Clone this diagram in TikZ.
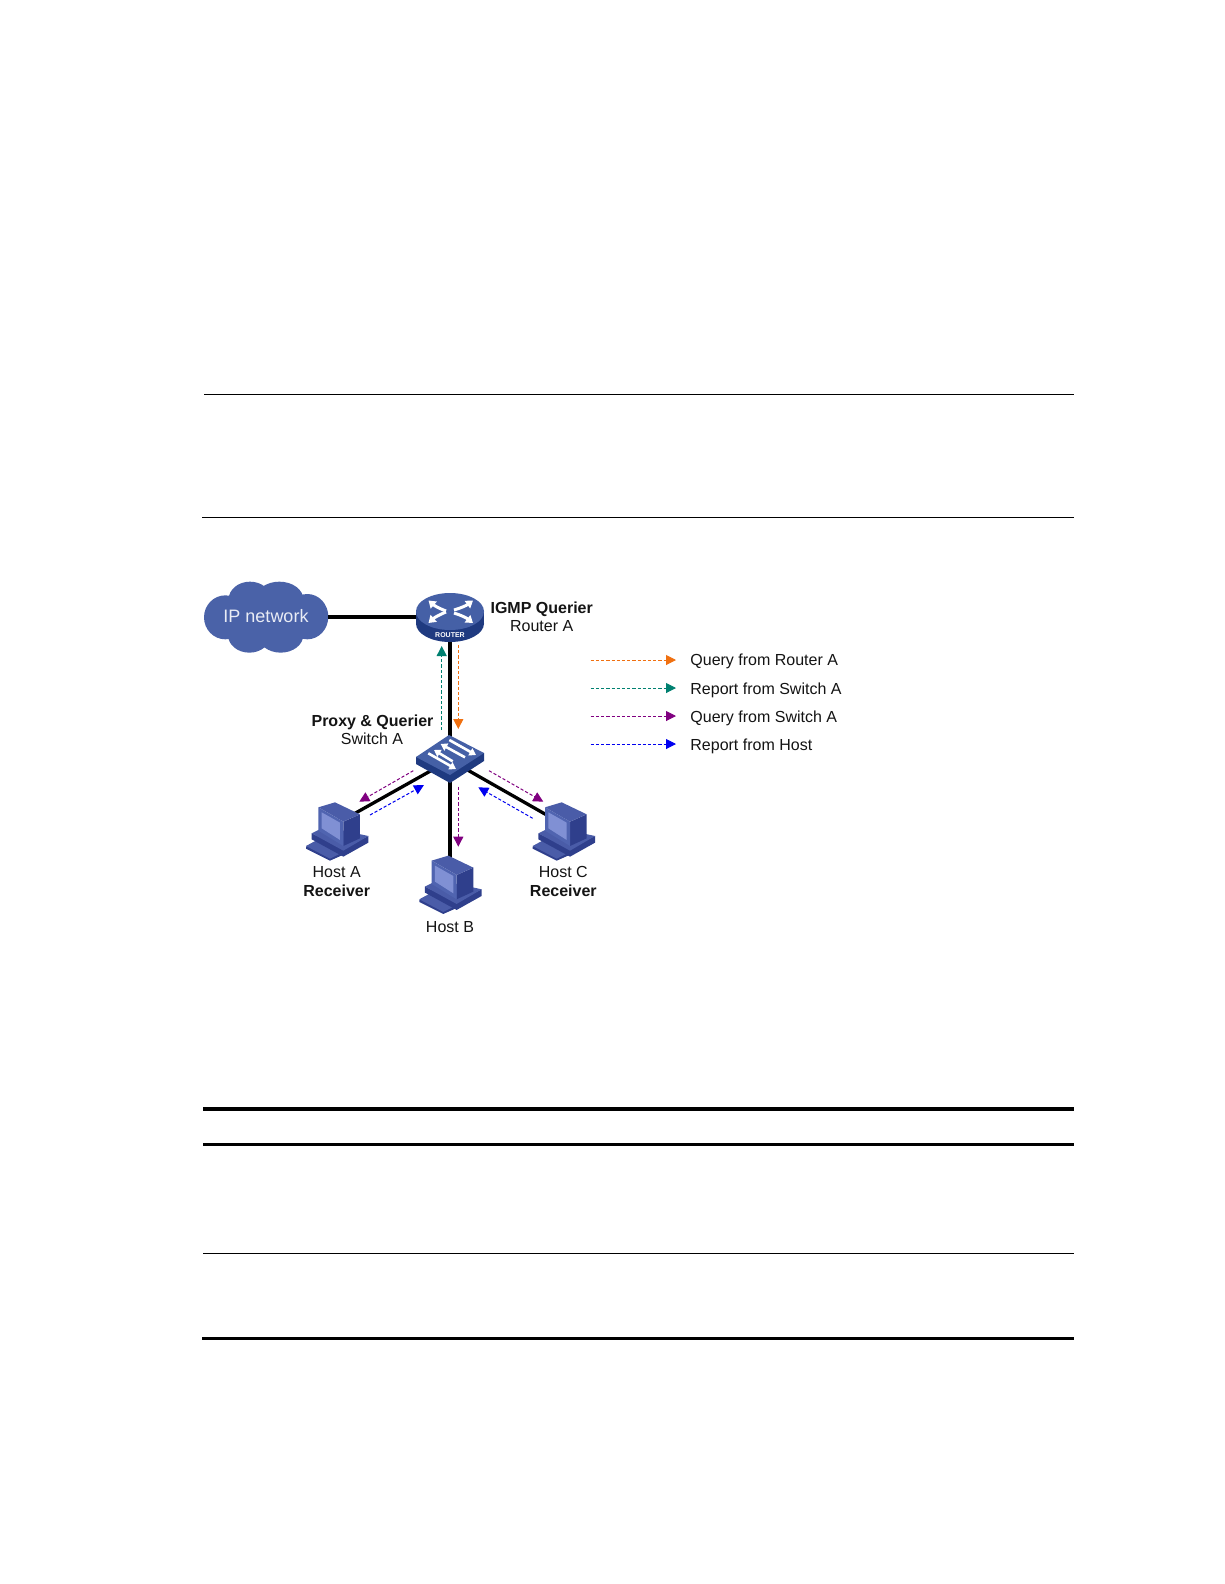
\documentclass[tikz,border=0pt]{standalone}
\usepackage{fontspec}
\setmainfont{Liberation Sans}
\usetikzlibrary{arrows.meta}
\definecolor{cloudblue}{HTML}{4A62A8}
\definecolor{devtop}{HTML}{4560A6}
\definecolor{devside}{HTML}{1F3A80}
\definecolor{pcmid}{HTML}{4A5CA8}
\definecolor{pcdark}{HTML}{2F3F8C}
\definecolor{pcscreen}{HTML}{8090D4}
\definecolor{pcframe}{HTML}{5064B0}
\definecolor{qorange}{HTML}{F07010}
\definecolor{qteal}{HTML}{008070}
\definecolor{qpurple}{HTML}{800080}
\definecolor{qblue}{HTML}{0000F0}
\tikzset{
  rulethin/.style={draw=black,line width=1pt},
  rulethick/.style={draw=black,line width=3.6pt},
  link/.style={draw=black,line width=3.3pt},
  msg/.style={line width=1pt,dash pattern=on 3.2pt off 2pt,-{Triangle[length=10pt,width=10pt]}},
  lab/.style={font=\fontsize{16}{18}\selectfont,text=black!92,inner sep=0pt,anchor=center},
  blab/.style={lab,font=\fontsize{16}{18}\selectfont\bfseries},
  leglab/.style={lab,anchor=west},
  icon/.style={white,line width=3pt,-{Triangle[length=7pt,width=9pt]}},
  swicon/.style={white,line width=2.6pt,-{Triangle[length=6.5pt,width=8pt]}},
  pics/hostpc/.style={code={
    \begin{scope}[x=0.3333pt,y=-0.3333pt]
      \fill[pcdark] (48,380) -- (85,360) -- (165,402) -- (120,422) -- (48,386) -- cycle;
      \fill[pcmid] (48,378) -- (85,358) -- (160,396) -- (120,416) -- cycle;
      \fill[pcdark] (65,340) -- (65,358) -- (160,410) -- (235,368) -- (235,348) -- (160,385) -- cycle;
      \fill[pcmid] (65,340) -- (105,320) -- (235,348) -- (160,392) -- cycle;
      \fill[pcdark] (160,305) -- (210,283) -- (210,355) -- (160,378) -- cycle;
      \fill[pcmid] (85,262) -- (135,247) -- (210,283) -- (160,305) -- cycle;
      \fill[pcframe] (85,262) -- (160,305) -- (160,378) -- (85,332) -- cycle;
      \fill[pcscreen] (95,277) -- (150,308) -- (150,360) -- (95,325) -- cycle;
    \end{scope}
  }}
}
\begin{document}
\begin{tikzpicture}[x=1pt,y=-1pt]
\useasboundingbox (0,0) rectangle (1224,1584);
\fill[white] (0,0) rectangle (1224,1584);
% page rules
\coordinate (ra1) at (204,394.5); \coordinate (ra2) at (1074,394.5);
\coordinate (rb1) at (202,517.5); \coordinate (rb2) at (1074,517.5);
\coordinate (rc1) at (203,1109); \coordinate (rc2) at (1074,1109);
\coordinate (rd1) at (203,1144.5); \coordinate (rd2) at (1074,1144.5);
\coordinate (re1) at (203,1253.5); \coordinate (re2) at (1074,1253.5);
\coordinate (rf1) at (202,1338.5); \coordinate (rf2) at (1074,1338.5);
\draw[rulethin] (ra1) -- (ra2);
\draw[rulethin] (rb1) -- (rb2);
\draw[rulethick] (rc1) -- (rc2);
\draw[rulethick,line width=3pt] (rd1) -- (rd2);
\draw[rulethin] (re1) -- (re2);
\draw[rulethick] (rf1) -- (rf2);
% device anchors
\coordinate (router) at (450,617);
\coordinate (swa) at (450,760);
\coordinate (hosta) at (352,815);
\coordinate (hostb) at (450,860);
\coordinate (hostc) at (552,818);
% cloud
\begin{scope}[shift={(190,560)},x=0.3333pt,y=-0.3333pt]
  \fill[cloudblue] (106,172) ellipse (64 and 66);
  \fill[cloudblue] (180,118) ellipse (64 and 53);
  \fill[cloudblue] (268,118) ellipse (72 and 53);
  \fill[cloudblue] (352,170) ellipse (63 and 68);
  \fill[cloudblue] (178,225) ellipse (64 and 53);
  \fill[cloudblue] (272,225) ellipse (68 and 53);
  \fill[cloudblue] (110,110) rectangle (350,235);
\end{scope}
\node[lab,font=\fontsize{18}{20}\selectfont,text=white!88!cloudblue,minimum width=124pt] (cloud) at (266,616) {IP network};
% links
\draw[link] (cloud.east |- router) -- (router);
\draw[link] (router) -- (swa);
\draw[link] (swa) -- (hosta);
\draw[link] (swa) -- (hostb);
\draw[link] (swa) -- (hostc);
% router icon
\fill[devside] (416,611.5) rectangle (484,623.5);
\fill[devside] (450,623.5) ellipse (34 and 18.5);
\fill[devtop] (450,611.5) ellipse (34 and 18.5);
\draw[icon] (446,611) to[bend left=10] (428.5,600.5);
\draw[icon] (454,610) to[bend right=10] (473,600.5);
\draw[icon] (446,612) to[bend right=10] (428.5,623);
\draw[icon] (454,613) to[bend left=10] (473,623);
\node[font=\fontsize{7}{8}\selectfont\bfseries,text=white,inner sep=0pt] (routerword) at (450,635.5) {ROUTER};
% switch icon
\fill[devside] (416,757) -- (416,764) -- (450,783) -- (484,761) -- (484,753) -- cycle;
\fill[devtop] (449,735) -- (484,753) -- (450,775) -- (416,757) -- cycle;
\begin{scope}[shift={(400,720)},x=0.3333pt,y=-0.3333pt]
  \draw[swicon] (85,100) -- (168,147);
  \draw[swicon] (158,124) -- (102,90);
  \draw[swicon] (195,112) -- (122,72);
  \draw[swicon] (148,60) -- (228,105);
\end{scope}
% hosts
\pic at (290,720) {hostpc};
\pic at (403.3,773.3) {hostpc};
\pic at (516.7,720) {hostpc};
% message arrows
\coordinate (m1a) at (458.3,645); \coordinate (m1b) at (458.3,729);
\coordinate (m2a) at (441.7,730); \coordinate (m2b) at (441.7,646);
\coordinate (m3a) at (413.3,770.7); \coordinate (m3b) at (359.3,801.7);
\coordinate (m4a) at (370,815); \coordinate (m4b) at (424,785);
\coordinate (m5a) at (458.3,786.7); \coordinate (m5b) at (458.3,846.7);
\coordinate (m6a) at (489,770.7); \coordinate (m6b) at (543.3,801.7);
\coordinate (m7a) at (532.7,818.3); \coordinate (m7b) at (478.3,787.3);
\draw[msg,qorange] (m1a) -- (m1b);
\draw[msg,qteal] (m2a) -- (m2b);
\draw[msg,qpurple] (m3a) -- (m3b);
\draw[msg,qblue] (m4a) -- (m4b);
\draw[msg,qpurple] (m5a) -- (m5b);
\draw[msg,qpurple] (m6a) -- (m6b);
\draw[msg,qblue] (m7a) -- (m7b);
% device labels
\node[blab] (lrouter1) at (541.7,609) {IGMP Querier};
\node[lab] (lrouter2) at (541.7,626) {Router A};
\node[blab] (lswitch1) at (372.5,722) {Proxy \& Querier};
\node[lab] (lswitch2) at (372,739) {Switch A};
\node[lab] (lhosta1) at (336.7,871.7) {Host A};
\node[blab] (lhosta2) at (336.7,891) {Receiver};
\node[lab] (lhostb) at (450,927) {Host B};
\node[lab] (lhostc1) at (563.3,871.7) {Host C};
\node[blab] (lhostc2) at (563.3,891) {Receiver};
% legend
\coordinate (k1a) at (590.7,660); \coordinate (k1b) at (676,660);
\coordinate (k2a) at (590.7,688); \coordinate (k2b) at (676,688);
\coordinate (k3a) at (590.7,716); \coordinate (k3b) at (676,716);
\coordinate (k4a) at (590.7,744); \coordinate (k4b) at (676,744);
\draw[msg,qorange] (k1a) -- (k1b);
\draw[msg,qteal] (k2a) -- (k2b);
\draw[msg,qpurple] (k3a) -- (k3b);
\draw[msg,qblue] (k4a) -- (k4b);
\node[leglab] (t1) at (690.2,661.5) {Query from Router A};
\node[leglab] (t2) at (690.2,690) {Report from Switch A};
\node[leglab] (t3) at (690.2,718) {Query from Switch A};
\node[leglab] (t4) at (690.2,746) {Report from Host};
\end{tikzpicture}
\end{document}
